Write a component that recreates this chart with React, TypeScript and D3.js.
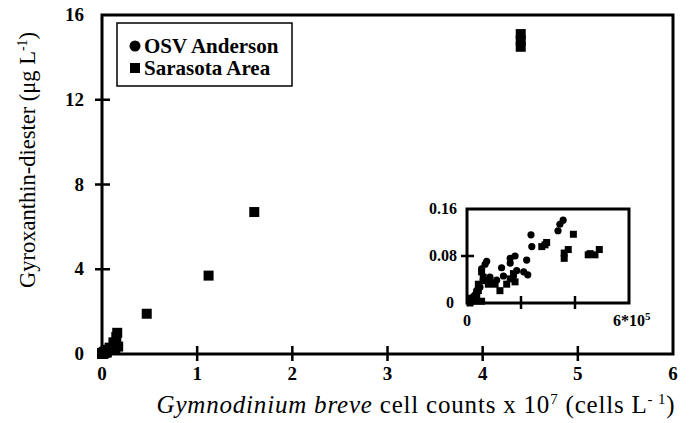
import React, { useEffect, useRef } from 'react';
import * as d3 from 'd3';

// main plot: large Sarasota samples (x in 10^7 cells/L, y in ug/L)
const sarasotaBigX = [4.4, 4.4, 4.4, 1.6, 1.12, 0.47, 0.16, 0.15, 0.12, 0.17, 0.08, 0.05, 0.14, 0.02];
const sarasotaBigY = [15.1, 14.8, 14.5, 6.7, 3.7, 1.9, 1.0, 0.8, 0.55, 0.35, 0.3, 0.2, 0.2, 0.1];

// inset: x in 10^5 cells/L, y in ug/L
const osvX = [3.56, 3.44, 3.37, 2.37, 2.4, 1.78, 1.6, 1.6, 2.21, 1.28, 0.73, 0.67, 0.54, 2.1, 2.25, 1.84, 1.1, 0.85, 0.3, 0.17, 0.11, 0.48, 0.6, 0.36, 1.35, 1.72, 0.24];
const osvY = [0.141, 0.134, 0.123, 0.116, 0.096, 0.08, 0.076, 0.068, 0.073, 0.06, 0.071, 0.066, 0.058, 0.053, 0.048, 0.055, 0.039, 0.044, 0.014, 0.005, 0.003, 0.027, 0.039, 0.021, 0.046, 0.046, 0.011];
const saraX = [3.94, 2.89, 2.77, 2.95, 3.75, 3.6, 3.6, 4.56, 4.9, 4.74, 4.49, 0.54, 0.6, 0.42, 0.42, 0.36, 0.79, 1.04, 1.22, 1.47, 1.6, 1.78, 1.72, 0.11, 0.3, 0.54, 0.17, 0.91, 0.67];
const saraY = [0.117, 0.099, 0.096, 0.103, 0.091, 0.085, 0.076, 0.084, 0.091, 0.082, 0.082, 0.053, 0.044, 0.032, 0.021, 0.014, 0.032, 0.032, 0.021, 0.032, 0.041, 0.036, 0.05, 0.0, 0.003, 0.003, 0.008, 0.034, 0.038];

const xTicks = [0, 1, 2, 3, 4, 5, 6];
const yTicks = [0, 4, 8, 12, 16];

const App = () => {
  const svgRef = useRef<SVGSVGElement>(null);

  useEffect(() => {
    const svg = d3.select(svgRef.current);
    svg.selectAll('*').remove();
    const serif = '"Liberation Serif", "Times New Roman", serif';

    const x = d3.scaleLinear().domain([0, 6]).range([102, 673]);
    const y = d3.scaleLinear().domain([0, 16]).range([354, 15]);

    // frame
    svg.append('rect')
      .attr('x', x(0)).attr('y', y(16))
      .attr('width', x(6) - x(0)).attr('height', y(0) - y(16))
      .attr('fill', 'none').attr('stroke', '#000').attr('stroke-width', 3);

    // ticks crossing the axis lines
    const tickPath = d3.path();
    xTicks.slice(1, -1).forEach(d => {
      tickPath.moveTo(x(d), y(0) - 8);
      tickPath.lineTo(x(d), y(0) + 7);
    });
    yTicks.slice(1, -1).forEach(d => {
      tickPath.moveTo(x(0) - 7, y(d));
      tickPath.lineTo(x(0) + 8, y(d));
    });
    svg.append('path').attr('d', tickPath.toString())
      .attr('fill', 'none').attr('stroke', '#000').attr('stroke-width', 2.5);

    svg.selectAll('text.xl').data(xTicks).enter().append('text')
      .attr('class', 'xl')
      .attr('x', d => x(d)).attr('y', 380)
      .attr('text-anchor', 'middle')
      .style('font-family', serif).style('font-weight', 'bold').style('font-size', '19px')
      .text(d => d);
    svg.selectAll('text.yl').data(yTicks).enter().append('text')
      .attr('class', 'yl')
      .attr('x', 84).attr('y', d => y(d) + 6)
      .attr('text-anchor', 'end')
      .style('font-family', serif).style('font-weight', 'bold').style('font-size', '19px')
      .text(d => d);

    // axis titles
    const xt = svg.append('text')
      .attr('x', 416).attr('y', 413)
      .attr('text-anchor', 'middle')
      .style('font-family', serif).style('font-size', '25px').style('letter-spacing', '0.8px');
    xt.append('tspan').style('font-style', 'italic').text('Gymnodinium breve');
    xt.append('tspan').text(' cell counts x 10');
    xt.append('tspan').attr('dy', -9).style('font-size', '15px').text('7');
    xt.append('tspan').attr('dy', 9).text(' (cells L');
    xt.append('tspan').attr('dy', -9).style('font-size', '15px').text('- 1');
    xt.append('tspan').attr('dy', 9).text(')');

    const yt = svg.append('text')
      .attr('transform', 'translate(35,160) rotate(-90)')
      .attr('text-anchor', 'middle')
      .style('font-family', serif).style('font-size', '22.5px');
    yt.append('tspan').text('Gyroxanthin-diester (μg L');
    yt.append('tspan').attr('dy', -8).style('font-size', '14px').text('-1');
    yt.append('tspan').attr('dy', 8).text(')');

    // main points: inset data scaled to 10^7 + large samples
    const sq = (g: any, cx: number, cy: number, s: number) =>
      g.append('rect').attr('x', cx - s / 2).attr('y', cy - s / 2)
        .attr('width', s).attr('height', s).attr('fill', '#000');
    const main = svg.append('g');
    osvX.forEach((v, i) => {
      main.append('circle').attr('cx', x(v / 100)).attr('cy', y(osvY[i])).attr('r', 5).attr('fill', '#000');
    });
    saraX.forEach((v, i) => sq(main, x(v / 100), y(saraY[i]), 10));
    sarasotaBigX.forEach((v, i) => sq(main, x(v), y(sarasotaBigY[i]), 10));

    // legend
    svg.append('rect').attr('x', 117).attr('y', 23).attr('width', 175).attr('height', 63)
      .attr('fill', '#fff').attr('stroke', '#000').attr('stroke-width', 1.5);
    svg.append('circle').attr('cx', 135).attr('cy', 46).attr('r', 5.5).attr('fill', '#000');
    sq(svg, 135, 68, 10);
    svg.append('text').attr('x', 144).attr('y', 53)
      .style('font-family', serif).style('font-weight', 'bold').style('font-size', '21px')
      .text('OSV Anderson');
    svg.append('text').attr('x', 144).attr('y', 75)
      .style('font-family', serif).style('font-weight', 'bold').style('font-size', '21px')
      .text('Sarasota Area');

    // inset
    const ix = d3.scaleLinear().domain([0, 6]).range([467, 629]);
    const iy = d3.scaleLinear().domain([0, 0.16]).range([303, 209]);
    const inset = svg.append('g');
    inset.append('rect').attr('x', ix(0)).attr('y', iy(0.16))
      .attr('width', ix(6) - ix(0)).attr('height', iy(0) - iy(0.16))
      .attr('fill', '#fff').attr('stroke', '#000').attr('stroke-width', 3);
    const iTicks = d3.path();
    [2, 4].forEach(t => {
      iTicks.moveTo(ix(t), iy(0) - 7);
      iTicks.lineTo(ix(t), iy(0) + 6);
    });
    iTicks.moveTo(ix(0) - 6, iy(0.08));
    iTicks.lineTo(ix(0) + 7, iy(0.08));
    inset.append('path').attr('d', iTicks.toString())
      .attr('fill', 'none').attr('stroke', '#000').attr('stroke-width', 2.5);
    const lbl = (t: any) => t.style('font-family', serif).style('font-weight', 'bold').style('font-size', '16px');
    [0.16, 0.08, 0].forEach(t => {
      lbl(inset.append('text').attr('x', t === 0 ? 454 : 457).attr('y', iy(t) + 5)
        .attr('text-anchor', 'end').text(t === 0 ? '0' : t.toFixed(2)));
    });
    lbl(inset.append('text').attr('x', ix(0)).attr('y', 326).attr('text-anchor', 'middle').text('0'));
    const x6 = lbl(inset.append('text').attr('x', 613).attr('y', 326));
    x6.append('tspan').text('6*10');
    x6.append('tspan').attr('dy', -6).style('font-size', '11px').text('5');

    osvX.forEach((v, i) => {
      inset.append('circle').attr('cx', ix(v)).attr('cy', iy(osvY[i])).attr('r', 3.6).attr('fill', '#000');
    });
    saraX.forEach((v, i) => sq(inset, ix(v), iy(saraY[i]), 7));
  }, []);

  return (
    <svg ref={svgRef} width={689} height={423}
      style={{ position: 'absolute', left: 0, top: 0, background: '#fff' }} />
  );
};

export default App;
